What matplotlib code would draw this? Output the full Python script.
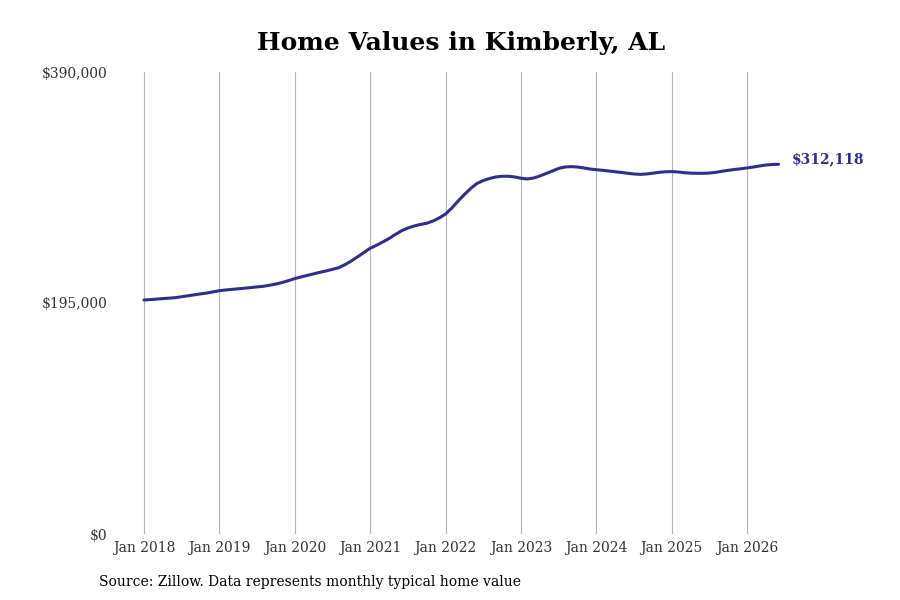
import matplotlib
matplotlib.use("Agg")
import matplotlib.pyplot as plt
from matplotlib.ticker import FuncFormatter

# Monthly typical home value, Jan 2018 .. Jun 2026 (thousands of $)
values_k = [
    197.5, 197.9, 198.3, 198.7, 199.1, 199.5, 200.3, 201.1, 201.9, 202.7, 203.4, 204.4,  # 2018
    205.4, 206.0, 206.5, 207.0, 207.5, 208.0, 208.6, 209.1, 210.0, 211.0, 212.3, 213.9,  # 2019
    215.6, 217.0, 218.3, 219.6, 220.9, 222.1, 223.4, 224.8, 227.4, 230.5, 234.0, 237.6,  # 2020
    241.2, 243.7, 246.5, 249.4, 252.8, 256.0, 258.3, 260.0, 261.3, 262.3, 264.2, 266.8,  # 2021
    270.1, 275.2, 281.1, 286.6, 291.7, 295.9, 298.4, 300.1, 301.4, 302.0, 302.0, 301.4,  # 2022
    300.3, 299.7, 300.5, 302.2, 304.3, 306.4, 308.6, 309.8, 310.1, 309.8, 309.0, 308.1,  # 2023
    307.5, 307.0, 306.4, 305.8, 305.2, 304.5, 303.9, 303.6, 303.9, 304.6, 305.3, 305.8,  # 2024
    305.9, 305.6, 305.0, 304.6, 304.5, 304.5, 304.7, 305.3, 306.2, 307.0, 307.7, 308.3,  # 2025
    309.0, 309.8, 310.7, 311.5, 311.9, 312.118,                                          # 2026
]
values = [v * 1000 for v in values_k]
months = list(range(len(values)))

tick_labels = ["Jan 2018", "Jan 2019", "Jan 2020", "Jan 2021", "Jan 2022",
               "Jan 2023", "Jan 2024", "Jan 2025", "Jan 2026"]
tick_pos = [12 * i for i in range(len(tick_labels))]
y_ticks = [0, 195000, 390000]
title = "Home Values in Kimberly, AL"
source = "Source: Zillow. Data represents monthly typical home value"
end_label = "$312,118"

line_color = "#2e2e8c"

plt.rcParams['font.family'] = ['DejaVu Serif']

fig = plt.figure(figsize=(9, 6), dpi=100)
ax = fig.add_axes([0.1333, 0.11, 0.8444, 0.77])

ax.plot(months, values, color=line_color, linewidth=2.2, solid_capstyle='round')

px_per_month = (747.2 - 144) / 96
ax.set_xlim(-(144 - 120) / px_per_month, (880 - 144) / px_per_month)
ax.set_ylim(0, 390000)

ax.set_xticks(tick_pos)
ax.set_xticklabels(tick_labels)
ax.set_yticks(y_ticks)
ax.yaxis.set_major_formatter(FuncFormatter(lambda v, p: f"${v:,.0f}"))

ax.tick_params(axis='both', length=0, labelsize=10, labelcolor="#333333")
ax.tick_params(axis='x', pad=5)
ax.tick_params(axis='y', pad=9)

ax.grid(axis='x', color="#b5b5b5", linewidth=0.8)
ax.grid(axis='y', visible=False)
for s in ax.spines.values():
    s.set_visible(False)

ax.annotate(end_label, xy=(months[-1], values[-1]), xytext=(9.5, 3.8),
            textcoords='offset points', va='center', ha='left',
            color=line_color, fontsize=10, fontweight='bold')

fig.text(0.512, 0.928, title, ha='center', va='center',
         fontsize=18, fontweight='bold', color='black')
fig.text(0.11, 0.03, source, ha='left', va='center', fontsize=10, color='black')

fig.savefig("out.png", dpi=100)
